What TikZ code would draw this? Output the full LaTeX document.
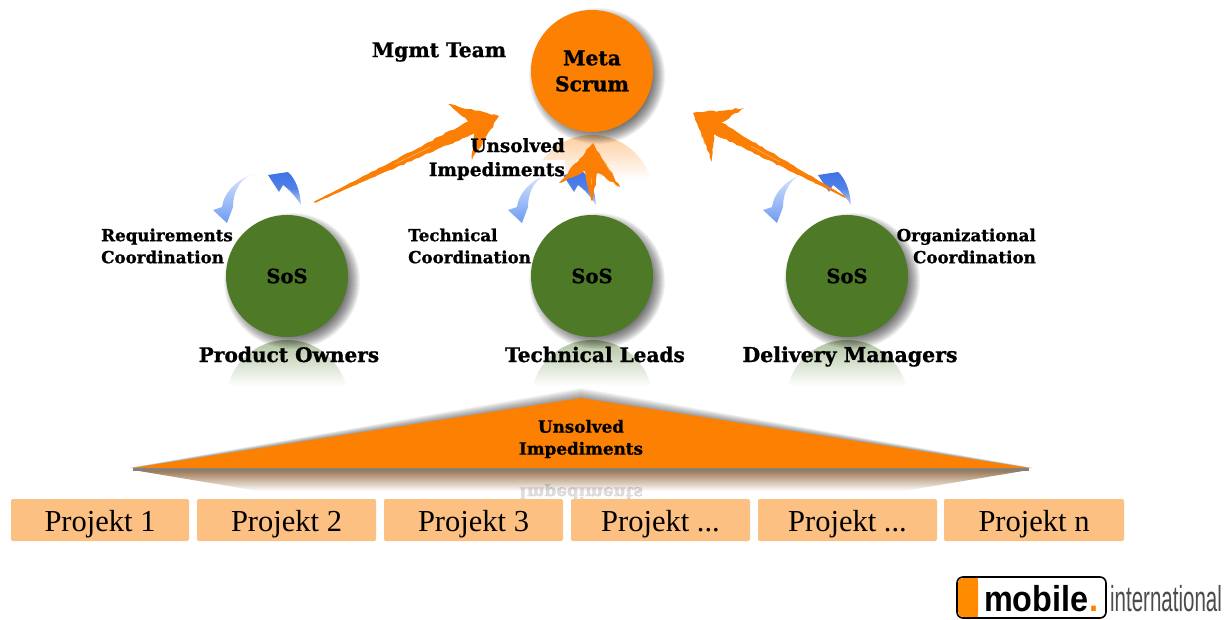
\documentclass[tikz,border=0pt]{standalone}
\usepackage{fontspec}
\setmainfont{DejaVu Serif}[BoldFeatures={FakeBold=1}]
\newfontfamily\pjfont{Liberation Serif}
\usetikzlibrary{calc,decorations.pathmorphing}
\definecolor{mOrange}{HTML}{FC8002}
\definecolor{mGreen}{HTML}{4E7A27}
\definecolor{mBox}{HTML}{FDC083}
\definecolor{mArrow}{HTML}{FB7F05}
\definecolor{mBlueD}{HTML}{3E73E6}
\definecolor{mBlueL}{HTML}{6E9BF3}
\tikzset{
  ball/.style={circle,minimum size=122pt,inner sep=0pt,align=center,text=black},
  lab/.style 2 args={inner sep=0pt,align=center,font=\fontsize{#1}{#2}\selectfont\bfseries},
  projekt/.style={rounded corners=2pt,fill=mBox,minimum height=42pt,inner sep=0pt,
    text height=22pt,text depth=0pt,font=\pjfont\fontsize{30.5}{32}\selectfont},
  rough/.style={decorate,decoration={random steps,segment length=4pt,amplitude=.9pt}},
}
% shadow of a ball
\newcommand{\ballshadow}[2]{%
  \foreach \rr in {68,67,...,54}{\fill[black,opacity=.05] (#1+5,#2+5) circle (\rr pt);}}
% reflection below a ball
\newcommand{\reflect}[4]{%
  \begin{scope}\clip (#1,#2+61) circle (61pt);
  \shade[top color=#4,bottom color=white] (#1-62,#2) rectangle (#1+62,#2+#3);
  \end{scope}}
% hand-drawn arrow between named points
\newcommand{\sketchy}[4]{%
  \coordinate (mid) at ($(#3)!.5!(#4)$);
  \coordinate (neck) at ($(#2)!.62!(mid)$);
  \fill[mArrow,rough] (#3) -- (#2) -- (#4) -- (neck) -- cycle;
  \fill[mArrow,rough] (#1) -- ($(neck)!7pt!90:(#2)$) -- ($(neck)!7pt!-90:(#2)$) -- cycle;
  \draw[mArrow,line width=1.4pt,line cap=round] (#1) -- ($(neck)!5pt!-90:(#1)$);
  \draw[mArrow,line width=1.4pt,line cap=round] (#1) -- ($(neck)!5pt!90:(#1)$);
  \draw[white,opacity=.45,line width=.5pt] ($(#1)!.5!(neck)$) -- ($(#1)!.72!(neck)$);
  \draw[white,opacity=.5,line width=.6pt] ($(#2)!.35!(#4)$) -- ($(#2)!.65!(#4)$);
}
% pair of blue circulating arrows
\newcommand{\bluepair}[1]{%
  \begin{scope}[shift={(#1,0)}]
  \shade[top color=mBlueL!25!white,bottom color=mBlueL]
    (255,174) .. controls (242,176) and (233,190) .. (233,207) -- (227,223) -- (213,210) -- (222,207)
    .. controls (224,192) and (238,178) .. (255,174) -- cycle;
  \shade[top color=mBlueD,bottom color=mBlueD!30!white,middle color=mBlueD!90!white]
    (301,205) .. controls (300,190) and (295,178) .. (288,172) -- (268,175) -- (279,192) -- (283,185)
    .. controls (290,190) and (295,196) .. (301,205) -- cycle;
  \end{scope}}
\begin{document}
\begin{tikzpicture}[x=1pt,y=-1pt]
\useasboundingbox (0,0) rectangle (1226,619);
\fill[white] (0,0) rectangle (1226,619);

% reflections
\reflect{592}{135}{45}{mOrange!38!white}
\fill[white] (429,160) rectangle (565,184);
\reflect{287}{340}{46}{mGreen!45!white}
\reflect{592}{340}{46}{mGreen!45!white}
\reflect{847}{340}{46}{mGreen!45!white}

% shadows and balls
\ballshadow{592}{71}
\ballshadow{287}{276}
\ballshadow{592}{276}
\ballshadow{847}{276}
\bluepair{0}
\bluepair{295}
\bluepair{550}
\node[ball,fill=mOrange,lab={20.3}{26}] (meta) at (592,71) {Meta\\Scrum};
\node[ball,fill=mGreen,lab={19.5}{22}] (sosA) at (287,276) {SoS};
\node[ball,fill=mGreen,lab={19.5}{22}] (sosB) at (592,276) {SoS};
\node[ball,fill=mGreen,lab={19.5}{22}] (sosC) at (847,276) {SoS};

% hand-drawn arrows
\coordinate (a1t) at (315,202); \coordinate (a1h) at (499,116);
\coordinate (a1p) at (448,104); \coordinate (a1q) at (472,160);
\coordinate (a2t) at (592,200); \coordinate (a2h) at (593,143);
\coordinate (a2p) at (559,183); \coordinate (a2q) at (620,187);
\coordinate (a3t) at (845,197); \coordinate (a3h) at (693,113);
\coordinate (a3p) at (744,108); \coordinate (a3q) at (712,162);
\sketchy{a1t}{a1h}{a1p}{a1q}
\sketchy{a2t}{a2h}{a2p}{a2q}
\sketchy{a3t}{a3h}{a3p}{a3q}

% big triangle
\begin{scope}
\clip (133,470) -- (1029,470) -- (581,545) -- cycle;
\shade[top color=mOrange!45!black!70!white,bottom color=white] (133,470) rectangle (1029,491);
\end{scope}
\foreach \s in {1,...,10}{\fill[black,opacity=.045] (133-\s/2,468) -- (581,398-\s) -- (1029+\s/2,468) -- cycle;}
\fill[gray] (133,468) rectangle (1029,471);
\begin{scope}
\clip (400,484) rectangle (760,499);
\node[lab={16.8}{22},yscale=-1,transform shape,text=black,opacity=.13] (mirror) at (581,492) {Impediments};
\end{scope}
\fill[mOrange] (133,468) -- (581,398) -- (1029,468) -- cycle;
\node[lab={16.8}{22}] (imp) at (581,439) {Unsolved\\Impediments};

% project boxes
\node[projekt,minimum width=178pt] (p1) at (100,520) {Projekt 1};
\node[projekt,minimum width=179pt] (p2) at (286.5,520) {Projekt 2};
\node[projekt,minimum width=179pt] (p3) at (473.5,520) {Projekt 3};
\node[projekt,minimum width=179pt] (p4) at (660.5,520) {Projekt ...};
\node[projekt,minimum width=179pt] (p5) at (847.5,520) {Projekt ...};
\node[projekt,minimum width=180pt] (p6) at (1034,520) {Projekt n};

% labels
\node[lab={20.2}{22}] (mgmt) at (439,52) {Mgmt Team};
\node[lab={18.4}{24},align=right,anchor=east] (unsol) at (565,159) {Unsolved\\Impediments};
\node[lab={16.7}{22},align=left,anchor=west] (req) at (101,246) {Requirements\\Coordination};
\node[lab={16.7}{22},align=left,anchor=west] (tec) at (408,246) {Technical\\Coordination};
\node[lab={16.7}{22},align=right,anchor=east] (org) at (1036,246) {Organizational\\Coordination};
\node[lab={20.1}{22},anchor=base] (po) at (289,362) {Product Owners};
\node[lab={20.1}{22},anchor=base] (tl) at (595,362) {Technical Leads};
\node[lab={20.5}{22},anchor=base] (dm) at (850,362) {Delivery Managers};

% logo
\begin{scope}
\clip (950,570) rectangle (1226,619);
\fill[white,draw=black,line width=1.6pt,rounded corners=6pt] (957,577) rectangle (1106,618);
\fill[orange!90!yellow,rounded corners=5pt] (958,578) rectangle (978,617);
\fill[orange!90!yellow] (970,578) rectangle (978,617);
\node[anchor=base west,inner sep=0pt,xscale=.9,transform shape,font={\fontspec{Liberation Sans}\fontsize{36}{36}\selectfont\bfseries}] (lg) at (984,611) {mobile};
\node[anchor=base west,inner sep=0pt,xscale=.9,transform shape,text=orange,font={\fontspec{Liberation Sans}\fontsize{36}{36}\selectfont\bfseries}] (lgd) at (1089,611) {.};
\node[anchor=base west,inner sep=0pt,xscale=.57,transform shape,text=black!70,font={\fontspec{Liberation Sans}\fontsize{36}{36}\selectfont}] (lgi) at (1110,611) {international};
\end{scope}
\end{tikzpicture}
\end{document}
